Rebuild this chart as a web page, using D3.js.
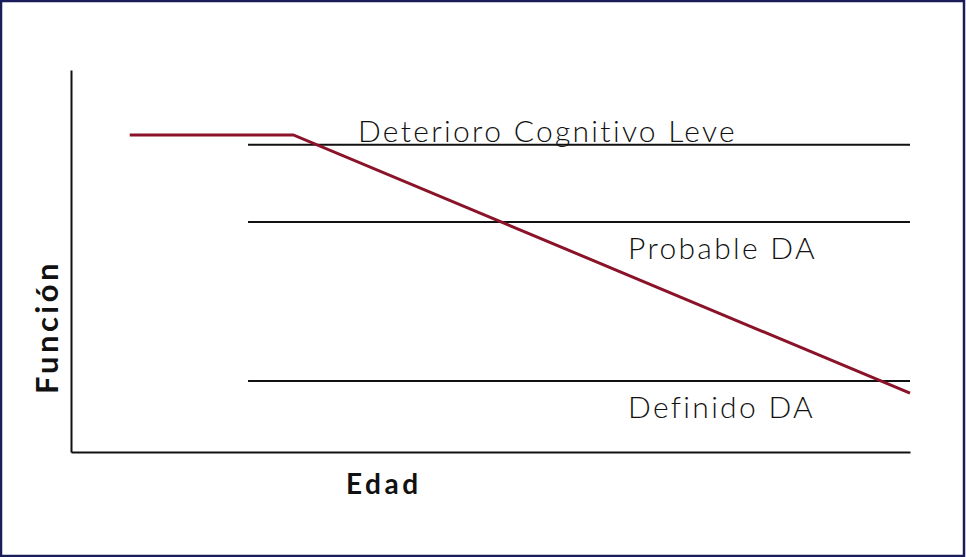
<!DOCTYPE html>
<html><head><meta charset="utf-8">
<script src="https://cdn.jsdelivr.net/npm/d3@7"></script>
<style>html,body{margin:0;padding:0;background:#fff;}svg{display:block;}text{font-variant-ligatures:none;}</style>
</head><body>
<svg id="c" width="966" height="557"></svg>
<script>
// Data
const ageValues = [7.0, 26.5, 100];          // Edad (relative)
const functionValues = [83.0, 83.0, 15.4];   // Función (relative)
const thresholdNames = ["Deterioro Cognitivo Leve", "Probable DA", "Definido DA"];
const thresholdValues = [80.4, 60.2, 18.6];
const thresholdStart = 21.1;
const labelAges = [34.2, 66.4, 66.4];
const xTitle = "Edad";
const yTitle = "Función";

const svg = d3.select("#c");
const W = 966, H = 557;
svg.append("rect").attr("x",1).attr("y",1).attr("width",W-3).attr("height",H-2)
  .attr("fill","#fff").attr("stroke","#1b1c5a").attr("stroke-width",2.5);

const x = d3.scaleLinear().domain([0,100]).range([71,910]);
const y = d3.scaleLinear().domain([0,100]).range([452,70]);

// axes (no ticks)
svg.append("g").attr("transform",`translate(0,${y(0)})`)
  .call(d3.axisBottom(x).tickValues([]).tickSizeOuter(0))
  .call(g=>g.select(".domain").attr("stroke","#111").attr("stroke-width",2));
svg.append("g").attr("transform",`translate(${x(0)},0)`)
  .call(d3.axisLeft(y).tickValues([]).tickSizeOuter(0))
  .call(g=>g.select(".domain").attr("stroke","#111").attr("stroke-width",2));

// threshold lines
svg.selectAll("line.th").data(thresholdValues).join("line").attr("class","th")
  .attr("x1",x(thresholdStart)).attr("x2",x(100))
  .attr("y1",d=>y(d)).attr("y2",d=>y(d))
  .attr("stroke","#111").attr("stroke-width",2);

// labels
const labelDy = [-3, 37, 37];
svg.selectAll("text.lab").data(thresholdNames).join("text").attr("class","lab")
  .attr("x",(d,i)=>x(labelAges[i]))
  .attr("y",(d,i)=>y(thresholdValues[i])+labelDy[i])
  .attr("font-family","Lato, 'Open Sans', sans-serif")
  .attr("font-weight",300).attr("font-size",30).attr("fill","#111")
  .attr("letter-spacing",2.3)
  .text(d=>d);

// decline line
const pts = ageValues.map((a,i)=>[a,functionValues[i]]);
svg.append("path").datum(pts)
  .attr("d",d3.line().x(d=>x(d[0])).y(d=>y(d[1])))
  .attr("fill","none").attr("stroke","#8a1329").attr("stroke-width",3);

// axis titles
svg.append("text").attr("x",346).attr("y",494)
  .attr("font-family","Lato, 'Open Sans', sans-serif").attr("font-weight",700)
  .attr("font-size",28).attr("letter-spacing",3.5).attr("fill","#111").text(xTitle);
svg.append("text").attr("transform","translate(58,327) rotate(-90)")
  .attr("text-anchor","middle")
  .attr("font-family","Lato, 'Open Sans', sans-serif").attr("font-weight",700)
  .attr("font-size",31).attr("letter-spacing",3.5).attr("fill","#111").text(yTitle);
</script>
</body></html>
